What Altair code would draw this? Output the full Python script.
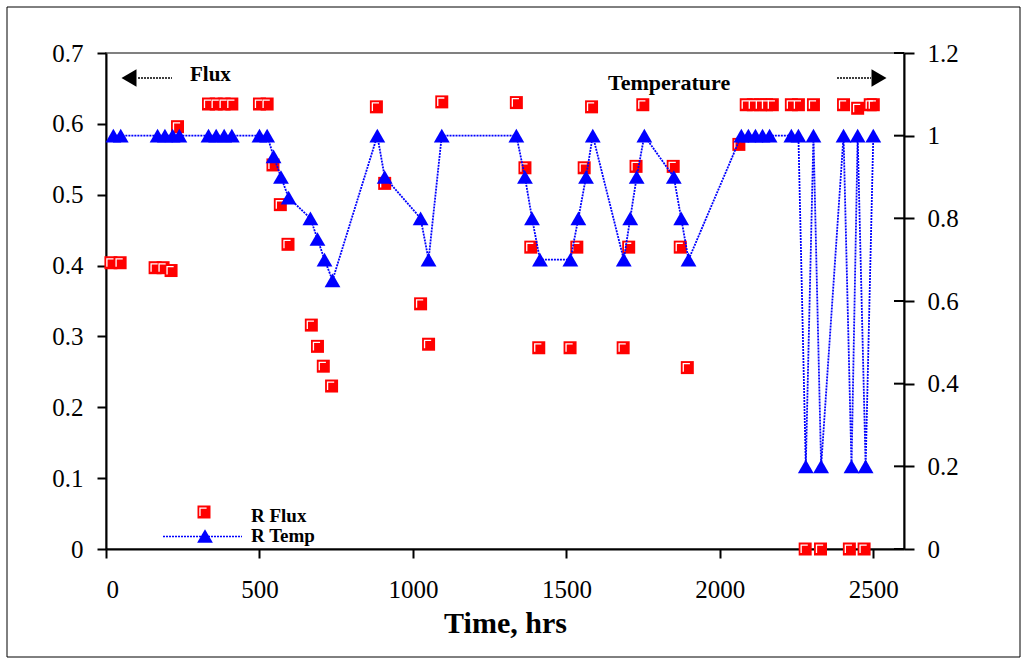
import altair as alt
import pandas as pd

# ---- data ----
flux_time = [16, 46, 160, 186, 212, 233, 334, 359, 385, 410, 500, 525, 544, 568, 593,
             669, 689, 708, 735, 881, 908, 1025, 1051, 1094, 1337, 1365, 1384, 1410,
             1512, 1534, 1558, 1582, 1685, 1703, 1727, 1749, 1848, 1871, 1894, 2062,
             2086, 2109, 2132, 2152, 2171, 2233, 2256, 2278, 2305, 2328, 2403, 2422,
             2449, 2470, 2490, 2500]
flux_val = [0.404, 0.404, 0.397, 0.397, 0.393, 0.596, 0.628, 0.628, 0.628, 0.628, 0.628,
            0.628, 0.542, 0.486, 0.430, 0.316, 0.286, 0.258, 0.230, 0.624, 0.516, 0.346,
            0.289, 0.631, 0.630, 0.538, 0.426, 0.284, 0.284, 0.426, 0.538, 0.624, 0.284,
            0.426, 0.540, 0.627, 0.540, 0.426, 0.256, 0.571, 0.627, 0.627, 0.627, 0.627,
            0.627, 0.627, 0.627, 0.0, 0.627, 0.0, 0.627, 0.0, 0.622, 0.0, 0.627, 0.627]

temp_time = [24, 48, 168, 192, 217, 239, 334, 359, 385, 410, 500, 525, 546, 570, 595,
             666, 689, 712, 738, 884, 908, 1025, 1051, 1094, 1337, 1365, 1388, 1414,
             1513, 1539, 1564, 1586, 1687, 1708, 1729, 1754, 1850, 1874, 1898, 2070,
             2093, 2116, 2139, 2162, 2233, 2256, 2280, 2305, 2330, 2403, 2429, 2449,
             2475, 2500]
temp_val = [1, 1, 1, 1, 1, 1, 1, 1, 1, 1, 1, 1, 0.95, 0.9, 0.85, 0.8, 0.75, 0.7, 0.65,
            1, 0.9, 0.8, 0.7, 1, 1, 0.9, 0.8, 0.7, 0.7, 0.8, 0.9, 1, 0.7, 0.8, 0.9, 1,
            0.9, 0.8, 0.7, 1, 1, 1, 1, 1, 1, 1, 0.2, 1, 0.2, 1, 0.2, 1, 0.2, 1]

x_ticks = [0, 500, 1000, 1500, 2000, 2500]
left_ticks = [0, 0.1, 0.2, 0.3, 0.4, 0.5, 0.6, 0.7]
right_ticks = [0, 0.2, 0.4, 0.6, 0.8, 1.0, 1.2]

flux_df = pd.DataFrame({"time": flux_time, "flux": flux_val})
temp_df = pd.DataFrame({"time": temp_time, "temp": temp_val})
rtick_df = pd.DataFrame({"temp": right_ticks})
one = pd.DataFrame({"a": [0]})

FONT = "Liberation Serif"
W, H = 798, 496
SQ = 169
TRI = 250
L_PATH = "M -0.62 0.62 L -0.62 -0.6 L 0.4 -0.6"

xscale = alt.Scale(domain=[0, 2600], nice=False, zero=False)
x_enc = alt.X("time:Q", scale=xscale,
              axis=alt.Axis(values=x_ticks, format="d", title="Time, hrs",
                            orient="bottom", grid=False))

yl = alt.Y("flux:Q", scale=alt.Scale(domain=[0, 0.7], nice=False),
           axis=alt.Axis(values=left_ticks, orient="left", title=None, grid=False,
                         labelExpr="datum.value == 0 ? '0' : format(datum.value, '.1f')",
                         labelPadding=14, tickSize=9))

flux_sq = alt.Chart(flux_df).mark_point(
    shape="square", filled=True, color="#FF0000", size=SQ, opacity=1
).encode(x=x_enc, y=yl)
flux_hl = alt.Chart(flux_df).mark_point(
    shape=L_PATH, filled=False, stroke="white", strokeWidth=1.3, size=SQ, opacity=1
).encode(x="time:Q", y="flux:Q")

# annotations (pixel positions inside plot area)
def txt(s, x, y, size, align="left"):
    return alt.Chart(one).mark_text(
        text=s, font=FONT, fontSize=size, fontWeight="bold", align=align,
        baseline="alphabetic", color="black"
    ).encode(x=alt.value(x), y=alt.value(y))

def dotted(x1, x2, y, color="black", width=1.5, dash=(2, 1)):
    return alt.Chart(one).mark_rule(
        color=color, strokeWidth=width, strokeDash=list(dash)
    ).encode(x=alt.value(x1), x2=alt.value(x2), y=alt.value(y))

def sym(shape, x, y, size, color):
    return alt.Chart(one).mark_point(
        shape=shape, filled=True, color=color, size=size, opacity=1
    ).encode(x=alt.value(x), y=alt.value(y))

flux_lbl = txt("Flux", 84, 28, 21)
temp_lbl = txt("Temperature", 502, 37, 22)
arr_l_line = dotted(32, 66, 25)
arr_l_head = sym("triangle-left", 23, 25, 300, "black")
arr_r_line = dotted(731, 765, 25)
arr_r_head = sym("triangle-right", 773, 25, 300, "black")

# legend
leg_sq = sym("square", 98, 459, SQ, "#FF0000")
leg_hl = alt.Chart(one).mark_point(
    shape=L_PATH, filled=False, stroke="white", strokeWidth=1.3, size=SQ, opacity=1
).encode(x=alt.value(98), y=alt.value(459))
leg_flux = txt("R Flux", 145, 469, 19)
leg_line = dotted(57, 136, 483.5, color="#0000FF", width=1.6, dash=(2, 1))
leg_tri = sym("triangle-up", 99, 483, TRI, "#0000FF")
leg_temp = txt("R Temp", 145, 489, 19)

# outer frame
frame = alt.Chart(one).mark_rect(
    fill=None, stroke="black", strokeWidth=1
).encode(x=alt.value(-99), x2=alt.value(914), y=alt.value(-46), y2=alt.value(604))

left = alt.layer(flux_sq, flux_hl, flux_lbl, temp_lbl, arr_l_line, arr_l_head,
                 arr_r_line, arr_r_head, leg_sq, leg_hl, leg_flux, leg_line, leg_tri,
                 leg_temp, frame)

rscale = alt.Scale(domain=[0, 1.2], nice=False)
yr = alt.Y("temp:Q", scale=rscale,
           axis=alt.Axis(values=right_ticks, orient="right", title=None, grid=False,
                         labelExpr="format(datum.value, '~g')",
                         labelPadding=13, tickSize=10))

temp_line = alt.Chart(temp_df).mark_line(
    color="#0000FF", strokeWidth=1.8, strokeDash=[2, 1]
).encode(x="time:Q", y=yr)
temp_pts = alt.Chart(temp_df).mark_point(
    shape="triangle-up", filled=True, color="#0000FF", size=TRI, opacity=1
).encode(x="time:Q", y="temp:Q")
rin = alt.Chart(rtick_df).mark_rule(color="black", strokeWidth=2).encode(
    x=alt.value(W - 10), x2=alt.value(W), y="temp:Q"
)
right = alt.layer(temp_line, temp_pts, rin)

chart = alt.layer(left, right).resolve_scale(y="independent").properties(
    width=W, height=H,
    autosize=alt.AutoSizeParams(type="none"),
    padding={"left": 106, "top": 53, "right": 1028 - 106 - W, "bottom": 666 - 53 - H},
    background="white",
).configure_view(
    stroke="#808080", strokeWidth=2
).configure_axis(
    labelFont=FONT, labelFontSize=25, labelColor="black",
    titleFont=FONT, titleFontSize=30, titleFontWeight="bold", titleColor="black",
    domainColor="black", domainWidth=2, tickColor="black", tickWidth=2,
).configure_axisX(
    labelPadding=19, tickSize=9, titlePadding=6,
)

chart.save("out.html", embed_options={"renderer": "svg", "actions": False})
